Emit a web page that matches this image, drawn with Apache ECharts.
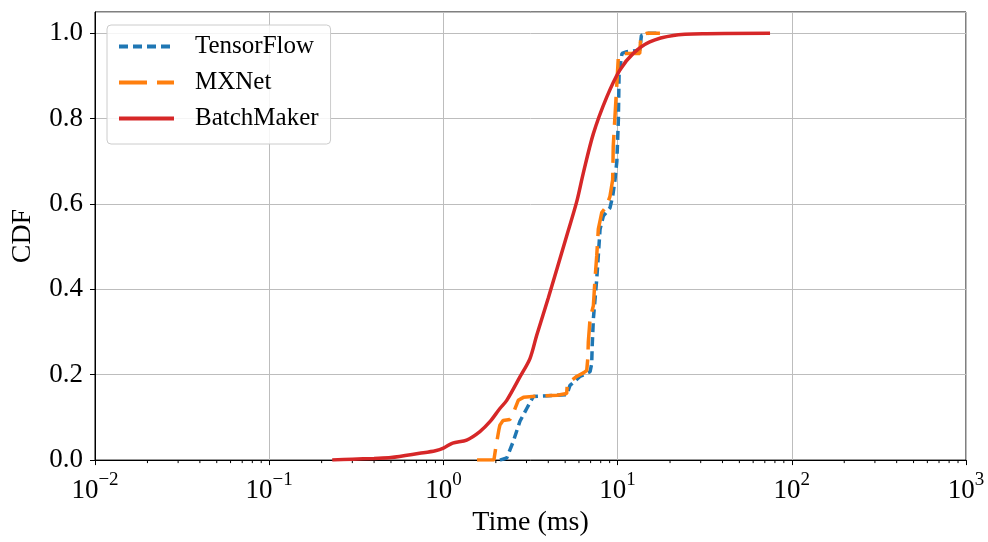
<!DOCTYPE html>
<html>
<head>
<meta charset="utf-8">
<script src="https://cdn.jsdelivr.net/npm/echarts@6/dist/echarts.min.js"></script>
<style>
html,body{margin:0;padding:0;background:#fff;}
#chart{width:988px;height:542px;}
</style>
</head>
<body>
<div id="chart"></div>
<script>
// ---- data ----
var seriesNames = ['TensorFlow', 'MXNet', 'BatchMaker'];

var tensorflowTime = [2.11, 2.31, 2.52, 2.75, 3.01, 3.28, 4.0, 5.1, 5.33, 6.08, 6.95, 7.10, 7.15, 7.26, 7.59, 7.75, 7.93, 8.28, 9.04, 9.37, 9.66, 9.9, 10.1, 10.2, 10.6, 11.3, 13.4, 13.7, 15.0, 17.5];
var tensorflowCdf  = [0.0, 0.005, 0.044, 0.091, 0.121, 0.149, 0.151, 0.153, 0.175, 0.196, 0.207, 0.226, 0.269, 0.331, 0.424, 0.479, 0.541, 0.572, 0.591, 0.618, 0.657, 0.70, 0.797, 0.906, 0.953, 0.957, 0.96, 0.995, 1.0, 1.0];

var mxnetTime = [1.56, 1.95, 2.0, 2.08, 2.11, 2.2, 2.41, 2.52, 2.58, 2.69, 2.88, 3.5, 4.5, 5.1, 5.15, 5.5, 5.82, 6.4, 6.65, 6.75, 6.79, 6.95, 7.26, 7.42, 7.59, 7.75, 8.11, 8.65, 9.04, 9.37, 9.44, 9.88, 10.1, 10.6, 13.4, 13.6, 14.7, 17.5];
var mxnetCdf  = [0.0, 0.0, 0.03, 0.07, 0.082, 0.093, 0.095, 0.11, 0.121, 0.14, 0.147, 0.15, 0.152, 0.156, 0.18, 0.188, 0.196, 0.205, 0.21, 0.24, 0.277, 0.331, 0.362, 0.424, 0.479, 0.541, 0.58, 0.595, 0.618, 0.657, 0.735, 0.875, 0.945, 0.953, 0.953, 0.995, 1.0, 1.0];

var batchTime = [0.23, 0.3, 0.4, 0.5, 0.73, 0.9, 1.0, 1.13, 1.36, 1.62, 1.85, 2.11, 2.31, 2.75, 3.14, 3.43, 4.0, 5.1, 5.82, 6.35, 7.26, 8.65, 10.3, 12.3, 15.3, 20.9, 32.4, 75];
var batchCdf  = [0.0, 0.002, 0.004, 0.006, 0.016, 0.022, 0.028, 0.04, 0.047, 0.067, 0.09, 0.121, 0.14, 0.195, 0.238, 0.292, 0.38, 0.525, 0.605, 0.672, 0.765, 0.85, 0.914, 0.953, 0.98, 0.995, 0.999, 1.0];

var yTickLabels = ['0.0', '0.2', '0.4', '0.6', '0.8', '1.0'];
var xDecades = [-2, -1, 0, 1, 2, 3];

// ---- build ----
function zip(a, b) { var r = []; for (var i = 0; i < a.length; i++) r.push([a[i], b[i]]); return r; }
var minorTicks = [];
for (var d = 0; d < xDecades.length - 1; d++) {
  for (var m = 2; m <= 9; m++) minorTicks.push([m * Math.pow(10, xDecades[d]), 0]);
}

var FONT = '"Liberation Serif", "Times New Roman", serif';
var chart = echarts.init(document.getElementById('chart'), null, {renderer: 'canvas'});

var option = {
  animation: false,
  backgroundColor: '#ffffff',
  grid: {left: 95, right: 22, top: 12, bottom: 80, show: true, borderColor: '#000', borderWidth: 1, backgroundColor: 'transparent'},
  legend: {
    data: seriesNames,
    orient: 'vertical',
    left: 107, top: 25,
    padding: [9, 12, 13, 10],
    itemGap: 11,
    itemWidth: 55, itemHeight: 14,
    itemStyle: {opacity: 0},
    lineStyle: {width: 4},
    backgroundColor: 'rgba(255,255,255,0.85)',
    borderColor: '#cccccc', borderWidth: 1, borderRadius: 4,
    textStyle: {fontFamily: FONT, fontSize: 25, color: '#000', padding: [0, 0, 0, 16]}
  },
  xAxis: {
    type: 'log', logBase: 10, min: 0.01, max: 1000,
    name: 'Time (ms)', nameLocation: 'middle', nameGap: 46,
    nameTextStyle: {fontFamily: FONT, fontSize: 28, color: '#000'},
    axisLine: {show: true, lineStyle: {color: '#000', width: 1}},
    axisTick: {show: true, inside: false, length: 5, lineStyle: {color: '#000', width: 1}},
    splitLine: {show: true, lineStyle: {color: '#bdbdbd', width: 1}},
    axisLabel: {
      margin: 10,
      formatter: function (v) {
        var e = Math.round(Math.log(v) / Math.LN10);
        return '{b|10}{s|' + (e < 0 ? '\u2212' + (-e) : e) + '}';
      },
      rich: {
        b: {fontFamily: FONT, fontSize: 27, color: '#000', lineHeight: 34, verticalAlign: 'bottom'},
        s: {fontFamily: FONT, fontSize: 19, color: '#000', lineHeight: 34, verticalAlign: 'top'}
      }
    }
  },
  yAxis: {
    type: 'value', min: 0, max: 1.05, interval: 0.2,
    name: 'CDF', nameLocation: 'middle', nameGap: 58,
    nameTextStyle: {fontFamily: FONT, fontSize: 28, color: '#000'},
    axisLine: {show: true, lineStyle: {color: '#000', width: 1}},
    axisTick: {show: true, inside: false, length: 5, lineStyle: {color: '#000', width: 1}},
    splitLine: {show: true, lineStyle: {color: '#bdbdbd', width: 1}},
    axisLabel: {
      margin: 12, showMaxLabel: false,
      fontFamily: FONT, fontSize: 27, color: '#000',
      formatter: function (v) { var i = Math.round(v / 0.2); return yTickLabels[i] !== undefined && Math.abs(v - i * 0.2) < 1e-6 ? yTickLabels[i] : ''; }
    }
  },
  series: [
    {
      name: 'minor', type: 'custom', silent: true, clip: false, z: 1,
      data: minorTicks,
      renderItem: function (params, api) {
        var p = api.coord([api.value(0), api.value(1)]);
        return {type: 'line', shape: {x1: p[0], y1: p[1], x2: p[0], y2: p[1] + 3}, style: {stroke: '#000', lineWidth: 1}};
      }
    },
    {
      name: 'TensorFlow', type: 'line', data: zip(tensorflowTime, tensorflowCdf),
      symbol: 'none', showSymbol: false, z: 3,
      lineStyle: {color: '#1f77b4', width: 3.5, type: [9, 5]},
      itemStyle: {color: '#1f77b4'}
    },
    {
      name: 'MXNet', type: 'line', data: zip(mxnetTime, mxnetCdf),
      symbol: 'none', showSymbol: false, z: 4,
      lineStyle: {color: '#ff7f0e', width: 3.5, type: [28, 10]},
      itemStyle: {color: '#ff7f0e'}
    },
    {
      name: 'BatchMaker', type: 'line', data: zip(batchTime, batchCdf),
      symbol: 'none', showSymbol: false, z: 5, smooth: 0.3,
      lineStyle: {color: '#d62728', width: 3.5},
      itemStyle: {color: '#d62728'}
    }
  ]
};
chart.setOption(option);
</script>
</body>
</html>
